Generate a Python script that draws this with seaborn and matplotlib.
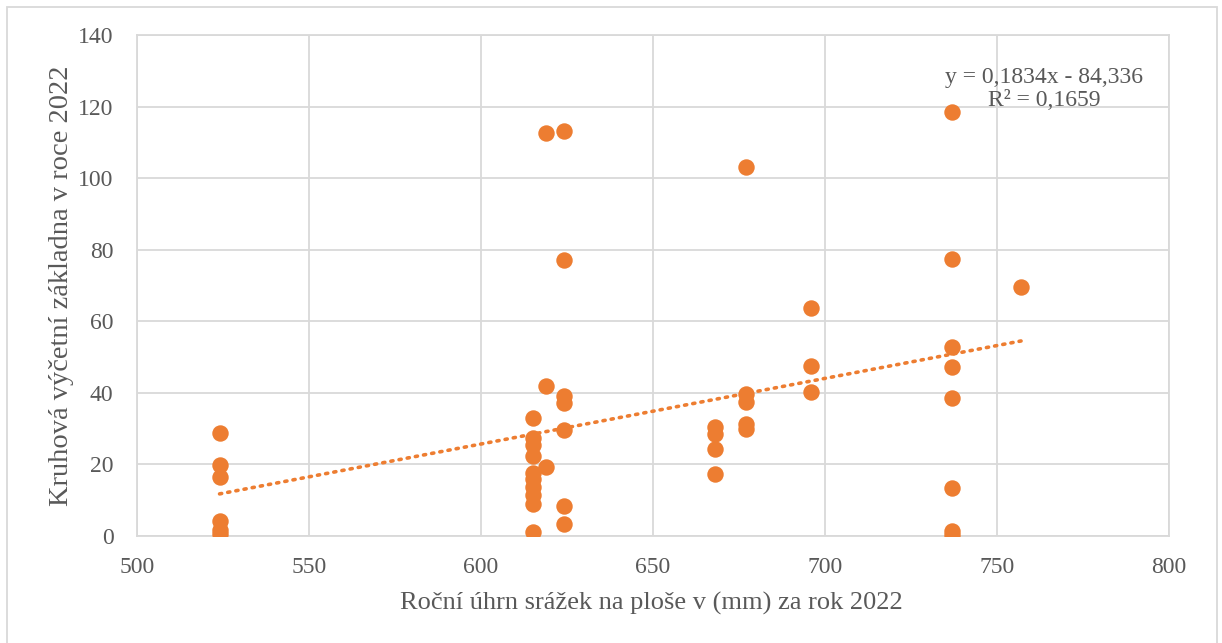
import numpy as np
import pandas as pd
import seaborn as sns
import matplotlib.pyplot as plt
from matplotlib.patches import Rectangle

# Precipitation (mm) per plot and basal area in 2022
srazky_524 = [524] * 6
zakladna_524 = [28.7, 19.9, 16.4, 4.1, 1.8, 0.5]
srazky_615 = [615] * 10
zakladna_615 = [33.0, 27.3, 25.5, 22.4, 17.6, 15.8, 13.8, 11.5, 8.9, 1.2]
srazky_619 = [619] * 3
zakladna_619 = [112.5, 42.0, 19.3]
srazky_624 = [624] * 7
zakladna_624 = [113.2, 77.0, 39.2, 37.1, 29.7, 8.3, 3.4]
srazky_668 = [668] * 4
zakladna_668 = [30.4, 28.4, 24.3, 17.4]
srazky_677 = [677] * 5
zakladna_677 = [103.2, 39.8, 37.4, 31.2, 29.9]
srazky_696 = [696] * 3
zakladna_696 = [63.6, 47.6, 40.3]
srazky_737 = [737] * 8
zakladna_737 = [118.5, 77.5, 52.8, 47.1, 38.5, 13.3, 1.4, 0.4]
srazky_757 = [757]
zakladna_757 = [69.6]

# linear trendline as reported on the chart
trend_slope = 0.1834
trend_intercept = -84.336
rovnice = "y = 0,1834x - 84,336\nR² = 0,1659"

x_ticks = [500, 550, 600, 650, 700, 750, 800]
y_ticks = [0, 20, 40, 60, 80, 100, 120, 140]

orange = "#ED7D31"
grey_text = "#595959"
grid_col = "#D9D9D9"


def build_data() -> pd.DataFrame:
    xs = (srazky_524 + srazky_615 + srazky_619 + srazky_624 + srazky_668
          + srazky_677 + srazky_696 + srazky_737 + srazky_757)
    ys = (zakladna_524 + zakladna_615 + zakladna_619 + zakladna_624 + zakladna_668
          + zakladna_677 + zakladna_696 + zakladna_737 + zakladna_757)
    return pd.DataFrame({'srazky': xs, 'zakladna': ys})


def main():
    data = build_data()

    # trendline spans the range of the data
    tx = np.array([data['srazky'].min(), data['srazky'].max()])
    trend = pd.DataFrame({'x': tx, 'y': trend_slope * tx + trend_intercept})

    sns.set_theme(style="whitegrid")
    plt.rcParams['font.family'] = ['Liberation Serif', 'DejaVu Serif']

    fig = plt.figure(figsize=(12.22, 6.43), dpi=100)
    ax = fig.add_axes([0.1121, 0.1664, 0.8445, 0.7792])

    sns.scatterplot(x='srazky', y='zakladna', data=data, ax=ax, color=orange,
                    s=140, linewidth=0, zorder=3)
    sns.lineplot(x='x', y='y', data=trend, ax=ax, color=orange,
                 linestyle=(0, (0.6, 1.7)), linewidth=2.6,
                 dash_capstyle='round', zorder=2)

    ax.set_xlim(500, 800)
    ax.set_ylim(0, 140)
    ax.set_xticks(x_ticks)
    ax.set_yticks(y_ticks)
    ax.grid(True, color=grid_col, linewidth=1.3)
    for sp in ax.spines.values():
        sp.set_color(grid_col)
        sp.set_linewidth(1.3)
    ax.tick_params(axis='both', length=0, labelsize=17, labelcolor=grey_text)
    ax.tick_params(axis='x', pad=15)
    ax.tick_params(axis='y', pad=17)

    ax.set_xlabel("Roční úhrn srážek na ploše v (mm) za rok 2022",
                  fontsize=19, color=grey_text)
    ax.set_ylabel("Kruhová výčetní základna v roce 2022",
                  fontsize=20.5, color=grey_text)
    ax.xaxis.label.set_va('center')
    ax.yaxis.label.set_va('center')
    ax.xaxis.set_label_coords(0.498, -0.134)
    ax.yaxis.set_label_coords(-0.0727, 0.499)

    ax.text(1044 / 1222, 1 - 89 / 643, rovnice, transform=fig.transFigure,
            ha='center', va='center', fontsize=17, color=grey_text,
            linespacing=1.15)

    # outer chart border
    fig.patches.append(Rectangle((7 / 1222, -0.05), 1210 / 1222, 1.05 - 7 / 643,
                                 transform=fig.transFigure, fill=False,
                                 edgecolor=grid_col, linewidth=1.3))

    fig.savefig("out.png", dpi=100)


if __name__ == "__main__":
    main()
